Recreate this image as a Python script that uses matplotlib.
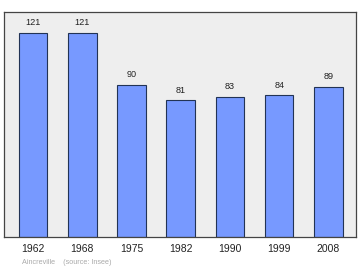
import matplotlib
matplotlib.use("Agg")
import matplotlib.pyplot as plt

years = ["1962", "1968", "1975", "1982", "1990", "1999", "2008"]
population = [121, 121, 90, 81, 83, 84, 89]
commune = "Aincreville"
source = "(source: Insee)"

plt.rcParams['font.family'] = ['Liberation Sans', 'DejaVu Sans']

fig = plt.figure(figsize=(3.6, 2.7), dpi=100)
# axes box in pixels: x 4..356, y 12..237 (from top)
ax = fig.add_axes([4 / 360, (270 - 237) / 270, 352 / 360, 225 / 270])
ax.set_facecolor("#eeeeee")

pos = list(range(len(years)))
ax.bar(pos, population, width=0.58, color="#7799ff", edgecolor="#223355", linewidth=0.8)

for x, v in zip(pos, population):
    ax.text(x, v + 3.5, str(v), ha="center", va="bottom", fontsize=6.6, color="#222222")

ax.set_xlim(-0.59, 6.56)
ax.set_ylim(0, 133.5)
ax.set_yticks([])
ax.set_xticks(pos)
ax.set_xticklabels(years, fontsize=7.5, color="#222222")
ax.tick_params(axis="x", length=0, pad=5)
for s in ax.spines.values():
    s.set_color("#444444")
    s.set_linewidth(0.9)

fig.text(22 / 360, 1 - 263 / 270, commune + "    " + source, fontsize=5.2,
         color="#aaaaaa", va="center", ha="left")

fig.savefig("out.png", dpi=100)
